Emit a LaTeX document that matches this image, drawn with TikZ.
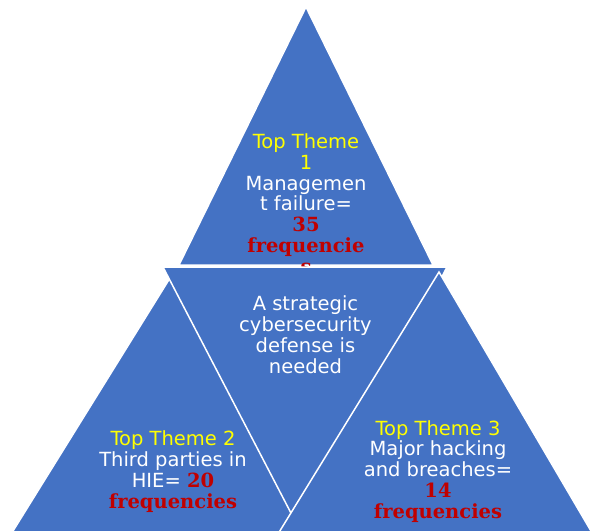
\documentclass[tikz,border=0pt]{standalone}
\usepackage{fontspec}
\setmainfont{DejaVu Sans}
\newfontfamily\freqfont{DejaVu Serif}
\usetikzlibrary{positioning}
\definecolor{themeblue}{HTML}{4472C4}
\definecolor{themeyellow}{HTML}{FFFF00}
\definecolor{freqred}{HTML}{C00000}
\tikzset{
wedge/.style={
	  fill=themeblue, draw=white, line width=1.5pt, line join=miter},
themetext/.style={
	  text=white, align=center, inner sep=0pt, anchor=base,
	    font=\fontsize{19.5}{20.7}\selectfont}
}
\newcommand{\hl}[1]{\textcolor{themeyellow}{#1}}
\newcommand{\freq}[1]{{\freqfont\bfseries\color{freqred}#1}}

\begin{document}
\begin{tikzpicture}[x=1pt, y=-1pt]
	\useasboundingbox (0,0) rectangle (590,531);
	\clip (0,0) rectangle (590,531);
	% top theme (its last line slips under the centre)
	\filldraw[wedge] (306,7) -- (179,265) -- (433,265) -- cycle;
	\node[themetext] (theme1) at (306,273)
		{\hl{Top Theme}\\\hl{1}\\Managemen\\t failure=\\\freq{35}\\\freq{frequencie}\\\freq{s}};
	% left, centre and right
	\filldraw[wedge] (170,278) -- (-5,560) -- (345,560) -- cycle;
	\filldraw[wedge] (163,267) -- (447,267) -- (305,540) -- cycle;
	\filldraw[wedge] (439,272) -- (262,560) -- (608,560) -- cycle;
	\node[themetext] (theme2) at (173,508)
		{\hl{Top Theme 2}\\Third parties in\\HIE= \freq{20}\\\freq{frequencies}};
	\node[themetext] (goal) at (305.5,373)
		{A strategic\\cybersecurity\\defense is\\needed};
	\node[themetext] (theme3) at (438,518)
		{\hl{Top Theme 3}\\Major hacking\\and breaches=\\\freq{14}\\\freq{frequencies}};
\end{tikzpicture}
\end{document}
